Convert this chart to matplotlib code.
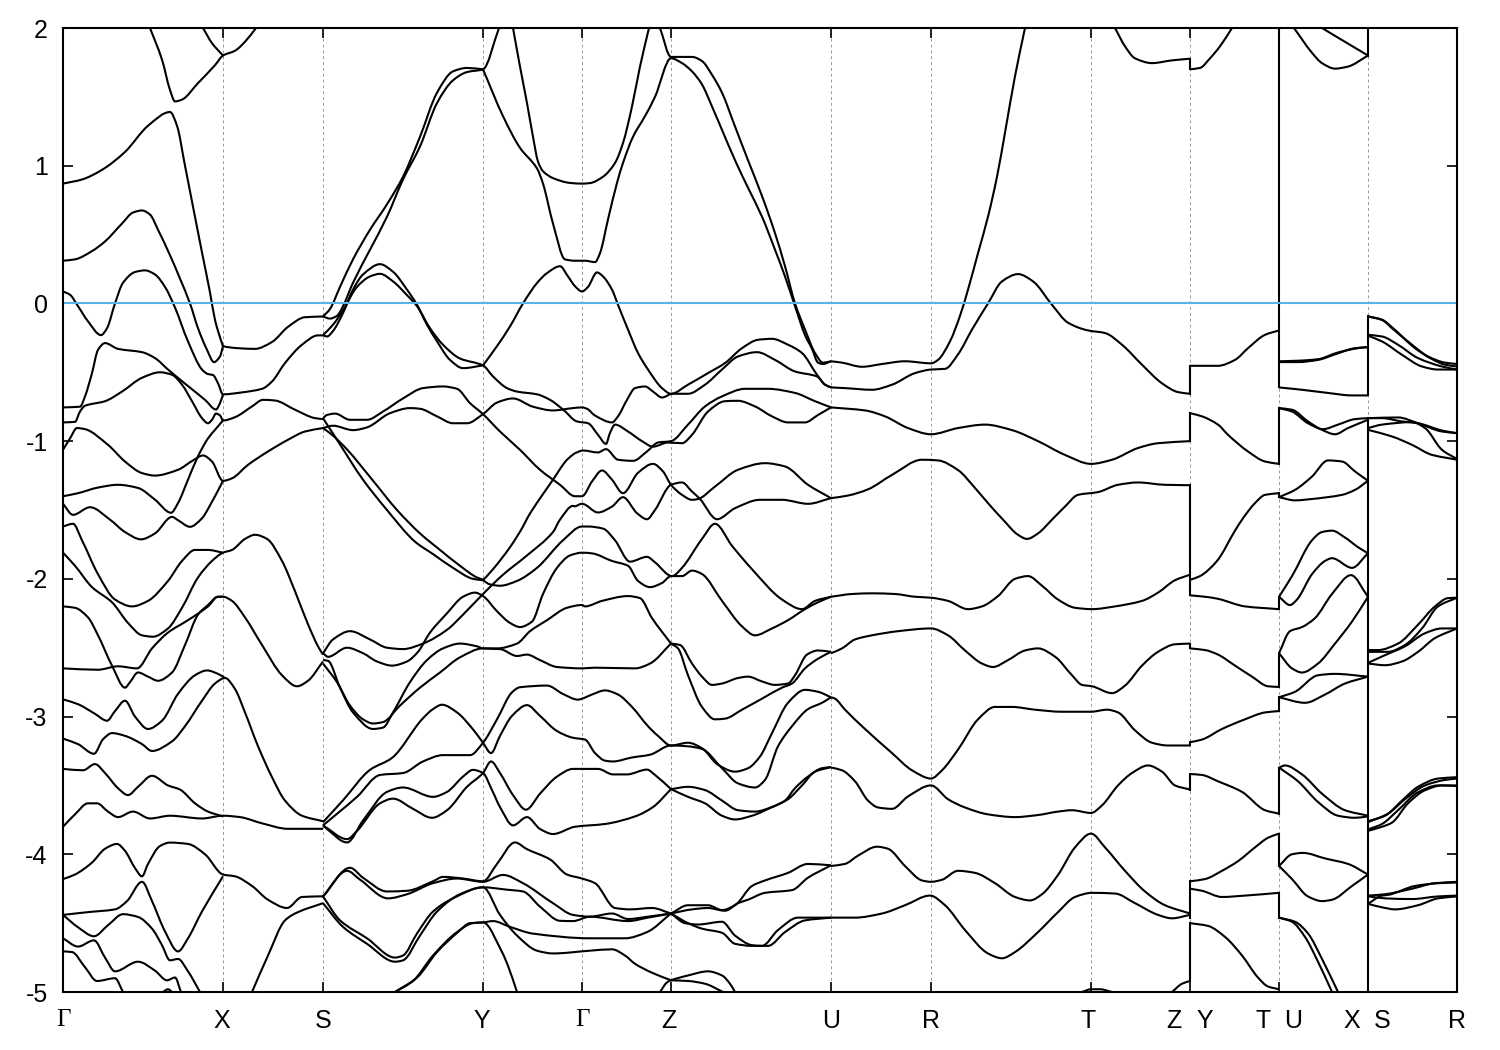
import numpy as np
import matplotlib
matplotlib.use("Agg")
import matplotlib.pyplot as plt
from matplotlib.path import Path
from matplotlib.patches import PathPatch

# k = distance along the path, E = energy (eV)
sym_points = [0, 160, 260, 420, 519, 608, 768, 868, 1028, 1127, 1216, 1305, 1394]
label_k = [0, 159, 260, 419, 519, 606, 768, 868, 1025, 1111, 1142, 1200, 1230, 1289, 1319, 1394]
label_txt = ["Γ", "X", "S", "Y", "Γ", "Z", "U", "R", "T", "Z", "Y", "T", "U", "X", "S", "R"]
y_ticks = [-5, -4, -3, -2, -1, 0, 1, 2]

# Gamma - X - S
gx1 = [(0,.87),(19,.90),(39,.97),(62,1.10),(85,1.29),(107,1.39),(114,1.29),(122,1.0),(129,.74),(139,.37),(147,.08),(152,-.12),(159,-.29),(160,-.31),(175,-.325),(192,-.33),(209,-.28),(225,-.17),(242,-.10),(260,-.095)]
gx2 = [(87,2.0),(99,1.77),(107,1.55),(112,1.467),(119,1.48),(135,1.60),(152,1.73),(160,1.80),(172,1.835),(182,1.90),(193,2.0)]
gx3 = [(140,2.0),(149,1.89),(160,1.80)]
gx4 = [(0,.31),(12,.32),(29,.38),(42,.45),(59,.58),(70,.66),(79,.675),(87,.645),(95,.535),(107,.35),(117,.18),(127,0),(135,-.18),(144,-.337),(151,-.426),(157,-.385),(160,-.31)]
gx5 = [(0,.087),(7,.063),(15,-.02),(25,-.13),(38,-.23),(44,-.18),(52,0),(60,.15),(72,.228),(82,.24),(92,.21),(102,.12),(112,-.03),(125,-.276),(139,-.48),(145,-.513),(150,-.52),(155,-.58),(160,-.66),(179,-.646),(199,-.62),(209,-.567),(222,-.433),(239,-.30),(255,-.232),(260,-.232)]
gx6 = [(0,-.755),(17,-.75),(22,-.675),(29,-.506),(35,-.337),(42,-.288),(55,-.33),(79,-.354),(92,-.397),(105,-.48),(125,-.60),(142,-.70),(153,-.77),(157,-.724),(160,-.66)]
gx7 = [(0,-.864),(12,-.86),(17,-.785),(22,-.743),(42,-.71),(59,-.64),(79,-.54),(97,-.50),(109,-.518),(119,-.59),(129,-.71),(139,-.833),(145,-.87),(149,-.845),(153,-.80),(157,-.813),(160,-.85),(172,-.826),(189,-.748),(200,-.70),(212,-.705),(232,-.772),(252,-.833),(260,-.84)]
gx8 = [(0,-1.063),(7,-.98),(14,-.905),(22,-.913),(45,-1.027),(62,-1.148),(79,-1.232),(92,-1.25),(115,-1.208),(130,-1.14),(140,-1.104),(149,-1.148),(160,-1.288),(169,-1.27),(185,-1.172),(205,-1.075),(225,-.99),(242,-.93),(260,-.905)]
gx9 = [(0,-1.40),(15,-1.378),(35,-1.337),(55,-1.317),(75,-1.34),(92,-1.425),(108,-1.52),(115,-1.45),(125,-1.28),(135,-1.11),(145,-.98),(152,-.918),(160,-.85)]
gx10 = [(0,-1.455),(10,-1.535),(27,-1.48),(47,-1.57),(62,-1.66),(78,-1.713),(92,-1.67),(109,-1.55),(115,-1.574),(127,-1.622),(139,-1.56),(146,-1.48),(160,-1.288)]
gx11 = [(0,-1.62),(10,-1.6),(19,-1.72),(35,-1.966),(52,-2.15),(69,-2.2),(85,-2.16),(105,-2.015),(119,-1.87),(132,-1.79),(145,-1.79),(160,-1.81)]
gx12 = [(0,-1.81),(12,-1.905),(29,-2.06),(49,-2.17),(65,-2.32),(79,-2.41),(90,-2.42),(105,-2.36),(119,-2.21),(135,-1.99),(149,-1.87),(160,-1.81),(169,-1.79),(182,-1.71),(192,-1.68),(204,-1.71),(219,-1.87),(232,-2.09),(245,-2.33),(255,-2.49),(260,-2.55)]
gx13 = [(0,-2.2),(12,-2.21),(25,-2.28),(35,-2.41),(49,-2.63),(62,-2.79),(67,-2.75),(75,-2.68),(85,-2.71),(95,-2.74),(109,-2.68),(122,-2.48),(135,-2.26),(145,-2.19),(155,-2.13),(160,-2.13),(169,-2.16),(182,-2.28),(199,-2.48),(219,-2.7),(234,-2.78),(245,-2.74),(260,-2.60)]
gx14 = [(0,-2.65),(35,-2.66),(55,-2.635),(74,-2.65),(89,-2.505),(105,-2.39),(125,-2.3),(145,-2.2),(155,-2.13),(160,-2.13)]
gx15 = [(0,-2.875),(15,-2.91),(32,-2.98),(44,-3.03),(52,-2.96),(62,-2.885),(72,-3.0),(85,-3.09),(99,-3.03),(115,-2.835),(132,-2.70),(144,-2.665),(155,-2.69),(162,-2.72)]
gx16 = [(0,-3.16),(15,-3.2),(31,-3.27),(40,-3.165),(49,-3.12),(62,-3.14),(79,-3.2),(89,-3.25),(109,-3.18),(122,-3.07),(139,-2.885),(152,-2.76),(162,-2.72),(172,-2.80),(182,-2.97),(195,-3.215),(209,-3.44),(222,-3.61),(239,-3.72),(260,-3.76)]
gx17 = [(0,-3.38),(20,-3.39),(32,-3.345),(42,-3.41),(55,-3.52),(65,-3.57),(75,-3.51),(89,-3.43),(105,-3.5),(117,-3.53),(132,-3.63),(145,-3.69),(160,-3.725)]
gx18 = [(0,-3.80),(12,-3.71),(25,-3.63),(34,-3.63),(45,-3.69),(55,-3.73),(70,-3.69),(87,-3.74),(107,-3.72),(139,-3.74),(160,-3.72),(177,-3.73),(199,-3.775),(225,-3.815),(260,-3.815)]
gx19 = [(0,-4.18),(12,-4.147),(29,-4.06),(42,-3.96),(54,-3.925),(62,-3.975),(72,-4.1),(79,-4.16),(85,-4.07),(97,-3.94),(107,-3.915),(125,-3.925),(142,-4.0),(160,-4.147),(172,-4.16),(189,-4.23),(205,-4.33),(224,-4.39),(239,-4.31),(260,-4.305)]
gx20 = [(0,-4.44),(25,-4.42),(52,-4.4),(64,-4.34),(79,-4.2),(89,-4.34),(102,-4.56),(115,-4.705),(125,-4.61),(139,-4.415),(160,-4.16)]
gx21 = [(0,-4.44),(15,-4.53),(31,-4.595),(45,-4.515),(60,-4.435),(75,-4.455),(89,-4.54),(99,-4.66),(107,-4.77),(115,-4.76),(125,-4.85),(137,-5.0)]
gx22 = [(0,-4.61),(15,-4.67),(31,-4.625),(42,-4.75),(52,-4.85),(75,-4.78),(92,-4.845),(104,-4.915),(112,-4.895),(118,-5.0)]
gx23 = [(0,-4.705),(9,-4.71),(22,-4.82),(34,-4.92),(52,-4.9),(60,-5.0)]
gx24 = [(100,-5.0),(105,-4.98),(109,-5.0)]
gx25 = [(189,-5.0),(205,-4.735),(222,-4.48),(235,-4.42),(260,-4.355)]

# S - Y - Gamma - Z - U
sy1 = [(260,-.095),(267,-.04),(277,.12),(290,.32),(307,.535),(324,.72),(340,.92),(357,1.21),(374,1.53),(390,1.685),(404,1.71),(420,1.70)]
sy2 = [(260,-.095),(267,-.11),(274,-.09),(280,-.02),(290,.15),(307,.39),(324,.63),(340,.90),(357,1.14),(374,1.455),(390,1.62),(404,1.68),(420,1.70),(436,2.0)]
sy3 = [(260,-.23),(264,-.24),(270,-.2),(280,-.07),(290,.1),(300,.21),(317,.285),(330,.23),(344,.10),(354,-.01),(364,-.155),(374,-.275),(387,-.41),(400,-.47),(420,-.45)]
sy4 = [(260,-.23),(270,-.155),(280,-.05),(294,.12),(307,.196),(317,.215),(330,.16),(344,.06),(354,-.02),(367,-.18),(380,-.30),(397,-.40),(420,-.45),(430,-.53),(444,-.615),(454,-.64),(474,-.66),(487,-.70),(500,-.77),(514,-.857),(525,-.87),(535,-.954),(543,-1.02),(547,-.94),(552,-.88),(565,-.93),(579,-1.0),(590,-1.04),(605,-1.01),(619,-1.015),(629,-.954),(645,-.785),(662,-.71),(675,-.707),(692,-.748),(709,-.82),(725,-.864),(742,-.864),(755,-.81),(768,-.755)]
gz0 = [(450,2.0),(457,1.72),(464,1.455),(470,1.21),(475,1.03),(480,.96),(490,.91),(507,.875),(519,.87),(527,.874),(540,.92),(552,1.02),(560,1.165),(569,1.43),(577,1.72),(586,2.0)]
gz1 = [(597,2.0),(608,1.79),(619,1.79),(629,1.79),(639,1.76),(649,1.66),(659,1.53),(672,1.285),(685,1.04),(699,.78),(712,.51),(722,.27),(732,0),(742,-.19),(752,-.36),(760,-.43),(768,-.42)]
gz2 = [(420,1.70),(440,1.36),(457,1.13),(474,.98),(480,.87),(490,.58),(502,.32),(512,.31),(522,.31),(532,.30),(537,.365),(545,.61),(554,.875),(560,1.02),(570,1.21),(582,1.36),(592,1.5),(608,1.78),(619,1.745),(629,1.685),(639,1.59),(649,1.43),(659,1.26),(672,1.04),(685,.84),(699,.63),(712,.39),(722,.196),(732,-.02),(742,-.23),(749,-.33),(755,-.43),(760,-.44),(768,-.42)]
sy6 = [(260,-.833),(264,-.81),(272,-.80),(287,-.845),(304,-.845),(320,-.785),(340,-.69),(360,-.615),(380,-.603),(394,-.62),(407,-.724),(420,-.804),(437,-.93),(457,-1.063),(477,-1.208),(497,-1.317),(512,-1.40),(519,-1.40),(529,-1.293),(539,-1.213),(549,-1.28),(560,-1.378),(575,-1.23),(590,-1.165),(600,-1.22),(608,-1.317),(619,-1.39),(629,-1.426),(635,-1.42),(652,-1.33),(675,-1.208),(702,-1.16),(722,-1.184),(745,-1.317),(768,-1.414)]
sy7 = [(260,-.905),(270,-.888),(290,-.92),(304,-.9),(327,-.797),(347,-.76),(357,-.765),(374,-.82),(390,-.87),(404,-.87),(420,-.804),(434,-.72),(450,-.69),(470,-.75),(490,-.777),(510,-.76),(519,-.755),(524,-.765),(532,-.814),(549,-.864),(555,-.82),(564,-.70),(572,-.615),(582,-.603),(590,-.64),(599,-.683),(608,-.656)]
sy8 = [(420,-.45),(434,-.31),(447,-.167),(460,0),(474,.148),(484,.22),(497,.27),(505,.196),(512,.125),(519,.087),(525,.12),(534,.225),(540,.196),(549,.1),(555,-.01),(565,-.19),(575,-.36),(585,-.48),(599,-.615),(608,-.656),(625,-.59),(645,-.506),(662,-.433),(679,-.325),(695,-.264),(709,-.257),(725,-.30),(739,-.36),(754,-.518),(762,-.59),(768,-.61)]
zu1 = [(608,-.656),(625,-.656),(642,-.59),(659,-.48),(675,-.385),(694,-.354),(712,-.41),(732,-.494),(754,-.53),(762,-.59),(768,-.61)]
zu2 = [(512,-1.087),(520,-1.068),(535,-1.082),(543,-1.058),(555,-1.135),(570,-1.143),(584,-1.075),(595,-1.01),(608,-1.0),(625,-.88),(642,-.748),(659,-.675),(682,-.62),(705,-.62),(732,-.65),(752,-.71),(768,-.755)]
zu3 = [(512,-1.475),(519,-1.455),(535,-1.518),(549,-1.475),(560,-1.407),(574,-1.523),(584,-1.567),(592,-1.5),(608,-1.317),(619,-1.30),(629,-1.366),(637,-1.42),(654,-1.567),(672,-1.487),(697,-1.426),(719,-1.426),(745,-1.455),(768,-1.414)]
sy9 = [(260,-.833),(274,-.99),(300,-1.28),(324,-1.5),(352,-1.73),(370,-1.82),(390,-1.92),(410,-2.0),(420,-2.01)]
sy10 = [(260,-.905),(269,-.954),(284,-1.06),(307,-1.26),(334,-1.5),(357,-1.67),(377,-1.79),(397,-1.905),(414,-1.99),(420,-2.005)]
sy11 = [(420,-2.01),(430,-1.93),(447,-1.77),(460,-1.62),(465,-1.55),(490,-1.28),(504,-1.135),(512,-1.087)]
sy12 = [(420,-2.01),(427,-2.04),(437,-2.05),(454,-2.015),(474,-1.92),(500,-1.72),(519,-1.62),(525,-1.62),(540,-1.635),(552,-1.72),(567,-1.875),(584,-1.84),(592,-1.88),(609,-1.98),(619,-1.92),(639,-1.71),(652,-1.6),(669,-1.76),(689,-1.93),(719,-2.15),(739,-2.22),(752,-2.16),(768,-2.13)]
sy13 = [(260,-2.54),(270,-2.44),(287,-2.38),(307,-2.44),(324,-2.5),(340,-2.51),(360,-2.47),(384,-2.37),(400,-2.26),(420,-2.11),(440,-1.97),(464,-1.83),(490,-1.66),(497,-1.57),(510,-1.47),(512,-1.475)]
sy14 = [(260,-2.54),(265,-2.566),(284,-2.5),(300,-2.54),(314,-2.6),(329,-2.63),(344,-2.6),(355,-2.53),(367,-2.39),(384,-2.25),(400,-2.13),(412,-2.1),(420,-2.125),(434,-2.235),(447,-2.32),(457,-2.35),(469,-2.31),(480,-2.11),(494,-1.92),(507,-1.83),(519,-1.81),(529,-1.815),(549,-1.87),(565,-1.905),(575,-2.015),(587,-2.06),(599,-2.03),(608,-1.98),(619,-1.98),(629,-1.94),(639,-1.965),(659,-2.16),(679,-2.345),(692,-2.41),(709,-2.36),(725,-2.3),(742,-2.22),(755,-2.17),(768,-2.13)]
sy15 = [(260,-2.59),(265,-2.595),(277,-2.79),(290,-2.97),(310,-3.09),(320,-3.08),(330,-2.97),(347,-2.75),(364,-2.59),(380,-2.505),(397,-2.47),(414,-2.49),(420,-2.505),(437,-2.51),(454,-2.56),(464,-2.55),(477,-2.59),(494,-2.64),(519,-2.65),(532,-2.645),(572,-2.65),(587,-2.615),(608,-2.47)]
sy16 = [(260,-2.615),(274,-2.75),(287,-2.92),(300,-3.02),(310,-3.05),(320,-3.04),(337,-2.92),(357,-2.79),(377,-2.68),(397,-2.57),(420,-2.505),(434,-2.505),(454,-2.47),(467,-2.38),(484,-2.3),(504,-2.21),(519,-2.19),(522,-2.2),(539,-2.16),(565,-2.125),(577,-2.14),(589,-2.285),(608,-2.47)]
zu4 = [(608,-2.47),(617,-2.48),(629,-2.615),(639,-2.71),(649,-2.77),(659,-2.76),(675,-2.72),(685,-2.71),(699,-2.745),(712,-2.77),(725,-2.76),(732,-2.7),(744,-2.55),(755,-2.52),(768,-2.53)]
zu5 = [(608,-2.47),(615,-2.505),(625,-2.7),(639,-2.93),(652,-3.02),(662,-3.015),(679,-2.95),(699,-2.87),(719,-2.79),(729,-2.76),(742,-2.65),(755,-2.58),(768,-2.53)]
sy17 = [(260,-3.767),(280,-3.608),(307,-3.387),(329,-3.30),(359,-3.02),(370,-2.946),(379,-2.914),(394,-2.97),(410,-3.093),(420,-3.19),(428,-3.265),(437,-3.14),(449,-2.995),(464,-2.917),(477,-2.995),(494,-3.105),(510,-3.154),(522,-3.167),(532,-3.265),(542,-3.32),(550,-3.326),(569,-3.297),(587,-3.277),(608,-3.21),(625,-3.216),(639,-3.235),(659,-3.375),(675,-3.485),(692,-3.515),(702,-3.46),(715,-3.216),(729,-3.07),(745,-2.946),(759,-2.9),(768,-2.86)]
sy18 = [(260,-3.79),(274,-3.706),(294,-3.583),(317,-3.424),(340,-3.41),(360,-3.326),(380,-3.28),(407,-3.28),(420,-3.19),(434,-3.02),(449,-2.824),(457,-2.787),(484,-2.775),(500,-2.836),(515,-2.877),(519,-2.87),(529,-2.84),(542,-2.81),(555,-2.84),(569,-2.93),(585,-3.07),(595,-3.14),(608,-3.21),(625,-3.19),(639,-3.23),(655,-3.35),(672,-3.40),(685,-3.375),(697,-3.29),(709,-3.12),(725,-2.9),(742,-2.806),(755,-2.82),(768,-2.86)]
sy19 = [(260,-3.79),(264,-3.816),(284,-3.914),(300,-3.755),(324,-3.547),(340,-3.515),(370,-3.583),(384,-3.547),(400,-3.436),(410,-3.387),(420,-3.41),(429,-3.534),(437,-3.657),(450,-3.79),(464,-3.73),(477,-3.816),(490,-3.853),(512,-3.80),(542,-3.78),(572,-3.725),(590,-3.657),(608,-3.527)]
sy20 = [(260,-3.79),(284,-3.89),(294,-3.83),(317,-3.63),(330,-3.596),(350,-3.67),(369,-3.735),(384,-3.68),(404,-3.51),(420,-3.41),(428,-3.326),(437,-3.41),(450,-3.57),(463,-3.676),(477,-3.56),(494,-3.436),(510,-3.38),(535,-3.38),(550,-3.42),(564,-3.42),(584,-3.385),(592,-3.424),(608,-3.527)]
zu6 = [(608,-3.527),(625,-3.51),(642,-3.534),(659,-3.61),(675,-3.68),(692,-3.69),(709,-3.657),(722,-3.61),(732,-3.52),(745,-3.436),(759,-3.375),(768,-3.367)]
zu7 = [(608,-3.527),(625,-3.583),(642,-3.63),(659,-3.72),(672,-3.747),(689,-3.72),(709,-3.657),(725,-3.6),(739,-3.5),(752,-3.4),(768,-3.367)]
sy21 = [(260,-4.306),(287,-4.098),(300,-4.17),(324,-4.27),(344,-4.265),(370,-4.196),(380,-4.164),(400,-4.176),(420,-4.196),(434,-4.07),(452,-3.914),(464,-3.963),(487,-4.037),(504,-4.147),(519,-4.176),(532,-4.21),(552,-4.39),(567,-4.4),(589,-4.39),(608,-4.43)]
sy22 = [(260,-4.306),(284,-4.12),(297,-4.184),(325,-4.32),(344,-4.29),(370,-4.21),(394,-4.176),(420,-4.2),(440,-4.15),(460,-4.21),(490,-4.355),(510,-4.44),(527,-4.453),(549,-4.43),(565,-4.47),(585,-4.453),(608,-4.43)]
sy23 = [(260,-4.306),(277,-4.48),(304,-4.61),(332,-4.75),(340,-4.735),(354,-4.575),(370,-4.416),(390,-4.32),(420,-4.24),(444,-4.257),(460,-4.27),(477,-4.38),(497,-4.483),(510,-4.485),(527,-4.453),(565,-4.485),(585,-4.46),(608,-4.43)]
sy24 = [(260,-4.355),(280,-4.527),(304,-4.65),(332,-4.78),(340,-4.77),(357,-4.59),(374,-4.416),(397,-4.29),(420,-4.24),(437,-4.44),(454,-4.59),(474,-4.70),(490,-4.72),(527,-4.70),(549,-4.69),(562,-4.735),(572,-4.795),(589,-4.86),(608,-4.915)]
sy25 = [(332,-5.0),(354,-4.895),(374,-4.71),(395,-4.565),(407,-4.5),(420,-4.495),(430,-4.485),(447,-4.527),(470,-4.576),(527,-4.61),(562,-4.61),(584,-4.565),(608,-4.43)]
sy26 = [(332,-5.0),(350,-4.92),(370,-4.735),(394,-4.565),(410,-4.5),(420,-4.495),(439,-4.71),(445,-4.81),(454,-5.0)]
zu8 = [(608,-4.43),(625,-4.37),(645,-4.37),(659,-4.405),(672,-4.37),(689,-4.23),(702,-4.19),(725,-4.135),(745,-4.07),(768,-4.08)]
zu9 = [(608,-4.43),(629,-4.4),(645,-4.39),(662,-4.41),(675,-4.355),(685,-4.33),(702,-4.28),(729,-4.26),(745,-4.17),(768,-4.08)]
zu10 = [(608,-4.43),(622,-4.5),(635,-4.51),(659,-4.49),(672,-4.59),(689,-4.66),(699,-4.665),(715,-4.55),(735,-4.46),(768,-4.46)]
zu11 = [(608,-4.43),(625,-4.5),(639,-4.54),(659,-4.57),(672,-4.65),(689,-4.665),(705,-4.665),(722,-4.565),(742,-4.48),(768,-4.46)]
zu12 = [(597,-5.0),(604,-4.93),(608,-4.915),(625,-4.88),(645,-4.85),(659,-4.88),(667,-4.94),(672,-5.0)]
zu13 = [(608,-4.915),(625,-4.92),(642,-4.94),(660,-5.0)]

# U - R - T - Z
ur1 = [(768,-.42),(779,-.43),(799,-.46),(819,-.44),(842,-.42),(868,-.435),(875,-.41),(887,-.275),(897,-.09),(905,.10),(915,.365),(925,.63),(934,.92),(942,1.24),(952,1.65),(962,2.0)]
ur2 = [(768,-.61),(782,-.615),(809,-.627),(829,-.59),(852,-.506),(868,-.48),(882,-.475),(895,-.37),(909,-.19),(925,0),(939,.16),(955,.213),(970,.16),(989,-.01),(1005,-.14),(1025,-.196),(1042,-.215),(1059,-.30),(1079,-.445),(1099,-.58),(1115,-.644),(1127,-.656)]
ur3 = [(768,-.755),(802,-.777),(822,-.82),(845,-.905),(868,-.95),(895,-.905),(922,-.88),(949,-.92),(975,-1.0),(1002,-1.10),(1028,-1.165),(1049,-1.135),(1075,-1.05),(1095,-1.015),(1127,-1.0)]
ur4 = [(768,-1.414),(785,-1.395),(805,-1.35),(829,-1.245),(859,-1.135),(875,-1.14),(895,-1.21),(912,-1.34),(925,-1.45),(940,-1.57),(955,-1.68),(964,-1.71),(975,-1.67),(989,-1.57),(1002,-1.475),(1015,-1.39),(1035,-1.37),(1055,-1.317),(1075,-1.30),(1102,-1.317),(1127,-1.32)]
ur5 = [(768,-2.13),(789,-2.11),(809,-2.105),(832,-2.11),(852,-2.13),(868,-2.137),(885,-2.16),(905,-2.22),(919,-2.2),(935,-2.125),(952,-2.0),(965,-1.98),(979,-2.05),(995,-2.15),(1012,-2.21),(1029,-2.22),(1052,-2.2),(1079,-2.16),(1095,-2.10),(1112,-2.01),(1127,-1.97)]
ur6 = [(768,-2.54),(779,-2.505),(792,-2.44),(809,-2.41),(835,-2.38),(868,-2.36),(885,-2.41),(902,-2.52),(919,-2.615),(930,-2.64),(945,-2.59),(962,-2.52),(975,-2.505),(992,-2.565),(1009,-2.70),(1019,-2.77),(1029,-2.78),(1049,-2.83),(1062,-2.775),(1079,-2.63),(1095,-2.53),(1112,-2.475),(1127,-2.47)]
ur7 = [(768,-2.86),(772,-2.87),(782,-2.95),(802,-3.09),(829,-3.265),(849,-3.39),(868,-3.45),(879,-3.39),(895,-3.24),(915,-3.02),(932,-2.93),(949,-2.93),(972,-2.95),(999,-2.965),(1028,-2.965),(1044,-2.95),(1055,-2.97),(1072,-3.10),(1089,-3.19),(1105,-3.21),(1127,-3.21)]
ur8 = [(768,-3.37),(779,-3.39),(792,-3.47),(805,-3.61),(815,-3.66),(829,-3.67),(845,-3.58),(868,-3.50),(885,-3.60),(902,-3.66),(925,-3.71),(952,-3.73),(975,-3.715),(995,-3.69),(1009,-3.68),(1028,-3.70),(1039,-3.645),(1055,-3.50),(1069,-3.41),(1085,-3.355),(1099,-3.40),(1112,-3.50),(1127,-3.53)]
ur9 = [(768,-4.085),(782,-4.07),(795,-4.01),(814,-3.945),(825,-3.96),(842,-4.085),(859,-4.19),(868,-4.2),(879,-4.185),(895,-4.12),(912,-4.135),(932,-4.21),(952,-4.31),(967,-4.335),(979,-4.29),(995,-4.15),(1012,-3.95),(1028,-3.85),(1042,-3.95),(1062,-4.12),(1082,-4.27),(1102,-4.37),(1127,-4.43)]
ur10 = [(768,-4.46),(792,-4.46),(819,-4.43),(842,-4.37),(867,-4.30),(882,-4.37),(902,-4.55),(925,-4.72),(939,-4.755),(952,-4.71),(975,-4.565),(995,-4.42),(1012,-4.31),(1029,-4.28),(1052,-4.285),(1072,-4.355),(1095,-4.44),(1109,-4.465),(1127,-4.44)]
ur11 = [(1052,2.0),(1062,1.867),(1072,1.78),(1089,1.745),(1109,1.765),(1127,1.777)]
ur12 = [(1109,-5.0),(1119,-4.94),(1127,-4.92)]
ur13 = [(1019,-5.0),(1028,-4.98),(1037,-4.98),(1049,-5.0)]

# Y - T
yt1 = [(1127,1.70),(1137,1.71),(1147,1.78),(1157,1.867),(1169,2.0)]
yt2 = [(1127,-.453),(1155,-.453),(1172,-.41),(1185,-.325),(1202,-.228),(1216,-.196)]
yt3 = [(1127,-.797),(1139,-.82),(1155,-.88),(1165,-.954),(1185,-1.075),(1202,-1.148),(1216,-1.165)]
yt4 = [(1127,-2.007),(1137,-1.98),(1154,-1.87),(1172,-1.65),(1180,-1.56),(1192,-1.45),(1202,-1.39),(1216,-1.378)]
yt5 = [(1127,-2.12),(1142,-2.13),(1155,-2.145),(1182,-2.2),(1216,-2.22)]
yt6 = [(1127,-2.505),(1142,-2.517),(1155,-2.55),(1172,-2.63),(1189,-2.71),(1205,-2.78),(1216,-2.785)]
yt7 = [(1127,-3.186),(1139,-3.167),(1159,-3.09),(1182,-3.02),(1202,-2.97),(1216,-2.96)]
yt8 = [(1127,-3.417),(1139,-3.424),(1155,-3.47),(1179,-3.547),(1202,-3.68),(1216,-3.705)]
yt9 = [(1127,-4.196),(1142,-4.18),(1159,-4.12),(1175,-4.05),(1192,-3.95),(1205,-3.88),(1216,-3.85)]
yt10 = [(1127,-4.25),(1139,-4.265),(1159,-4.31),(1182,-4.30),(1216,-4.28)]
yt11 = [(1127,-4.5),(1145,-4.52),(1162,-4.6),(1179,-4.735),(1195,-4.895),(1205,-4.96),(1216,-4.98)]

# U - X
ux1 = [(1231,2.0),(1249,1.82),(1259,1.745),(1272,1.705),(1285,1.72),(1305,1.80)]
ux2 = [(1259,2.0),(1275,1.93),(1305,1.80)]
ux3 = [(1216,-.42),(1235,-.416),(1255,-.405),(1275,-.356),(1295,-.325),(1305,-.317)]
ux4 = [(1216,-.426),(1235,-.426),(1255,-.41),(1272,-.37),(1292,-.325),(1305,-.317)]
ux5 = [(1216,-.61),(1239,-.627),(1265,-.65),(1289,-.668),(1305,-.668)]
ux6 = [(1216,-.76),(1229,-.772),(1245,-.857),(1259,-.918),(1272,-.95),(1285,-.905),(1305,-.845)]
ux7 = [(1216,-.76),(1229,-.785),(1245,-.87),(1260,-.913),(1275,-.88),(1292,-.84),(1305,-.833)]
ux8 = [(1216,-1.407),(1232,-1.354),(1249,-1.257),(1265,-1.14),(1279,-1.148),(1292,-1.22),(1305,-1.288)]
ux9 = [(1216,-1.407),(1232,-1.43),(1249,-1.42),(1279,-1.39),(1292,-1.354),(1305,-1.288)]
ux10 = [(1216,-2.13),(1229,-1.98),(1249,-1.72),(1259,-1.66),(1269,-1.65),(1282,-1.70),(1295,-1.77),(1305,-1.814)]
ux11 = [(1216,-2.13),(1227,-2.19),(1234,-2.15),(1249,-1.966),(1262,-1.87),(1269,-1.85),(1289,-1.92),(1305,-1.814)]
ux12 = [(1216,-2.54),(1227,-2.38),(1239,-2.35),(1252,-2.285),(1269,-2.11),(1288,-1.973),(1305,-2.13)]
ux13 = [(1216,-2.54),(1229,-2.65),(1239,-2.68),(1255,-2.615),(1272,-2.47),(1289,-2.31),(1305,-2.13)]
ux14 = [(1216,-2.86),(1232,-2.82),(1255,-2.70),(1272,-2.69),(1305,-2.71)]
ux15 = [(1216,-2.86),(1242,-2.9),(1262,-2.84),(1282,-2.76),(1305,-2.71)]
ux16 = [(1216,-3.37),(1222,-3.355),(1239,-3.42),(1259,-3.56),(1282,-3.68),(1305,-3.72)]
ux17 = [(1216,-3.37),(1235,-3.47),(1255,-3.62),(1275,-3.72),(1292,-3.735),(1305,-3.725)]
ux18 = [(1216,-4.085),(1229,-4.0),(1240,-3.99),(1262,-4.03),(1285,-4.07),(1305,-4.147)]
ux19 = [(1216,-4.085),(1229,-4.18),(1245,-4.306),(1259,-4.34),(1269,-4.33),(1289,-4.23),(1305,-4.147)]
ux20 = [(1216,-4.46),(1232,-4.49),(1245,-4.575),(1259,-4.76),(1275,-5.0)]
ux21 = [(1216,-4.46),(1229,-4.49),(1242,-4.6),(1255,-4.78),(1269,-5.0)]

# S - R
sr1 = [(1305,-.094),(1319,-.12),(1329,-.18),(1349,-.3),(1365,-.385),(1382,-.43),(1394,-.44)]
sr2 = [(1305,-.094),(1319,-.118),(1329,-.173),(1352,-.325),(1369,-.404),(1382,-.445),(1394,-.458)]
sr3 = [(1305,-.228),(1319,-.24),(1335,-.30),(1355,-.397),(1379,-.458),(1394,-.48)]
sr4 = [(1305,-.235),(1319,-.276),(1339,-.373),(1359,-.458),(1375,-.48),(1394,-.48)]
sr5 = [(1305,-.833),(1335,-.828),(1355,-.87),(1379,-.93),(1394,-.942)]
sr6 = [(1305,-.833),(1319,-.833),(1339,-.857),(1355,-.87),(1379,-.923),(1394,-.942)]
sr7 = [(1305,-.905),(1319,-.88),(1349,-.862),(1362,-.905),(1379,-1.063),(1394,-1.13)]
sr8 = [(1305,-.918),(1329,-.966),(1349,-1.027),(1369,-1.1),(1385,-1.123),(1394,-1.135)]
sr9 = [(1305,-2.517),(1315,-2.517),(1335,-2.47),(1355,-2.333),(1372,-2.2),(1385,-2.14),(1394,-2.137)]
sr10 = [(1305,-2.53),(1325,-2.53),(1342,-2.48),(1359,-2.36),(1375,-2.2),(1394,-2.137)]
sr11 = [(1305,-2.615),(1322,-2.627),(1339,-2.6),(1355,-2.53),(1372,-2.43),(1394,-2.36)]
sr12 = [(1305,-2.61),(1322,-2.554),(1342,-2.49),(1362,-2.395),(1379,-2.36),(1394,-2.36)]
sr13 = [(1305,-3.76),(1322,-3.72),(1339,-3.61),(1355,-3.51),(1375,-3.45),(1394,-3.44)]
sr14 = [(1305,-3.767),(1325,-3.705),(1342,-3.6),(1362,-3.5),(1382,-3.46),(1394,-3.45)]
sr15 = [(1305,-3.82),(1319,-3.78),(1335,-3.68),(1355,-3.55),(1375,-3.5),(1394,-3.5)]
sr16 = [(1305,-3.83),(1319,-3.8),(1329,-3.77),(1345,-3.63),(1362,-3.535),(1379,-3.5),(1394,-3.505)]
sr17 = [(1305,-4.3),(1322,-4.29),(1349,-4.25),(1372,-4.21),(1394,-4.2)]
sr18 = [(1305,-4.36),(1319,-4.3),(1325,-4.295),(1352,-4.23),(1375,-4.21),(1394,-4.205)]
sr19 = [(1305,-4.305),(1322,-4.32),(1349,-4.325),(1375,-4.306),(1394,-4.3)]
sr20 = [(1305,-4.36),(1319,-4.385),(1332,-4.4),(1355,-4.37),(1375,-4.32),(1394,-4.306)]

# jumps where the path breaks: k, low E, high E
jumps = [(1127,1.70,1.777),(1127,-.656,-.453),(1127,-1.0,-.797),(1127,-2.12,-1.32),(1127,-2.505,-2.47),
         (1127,-3.21,-3.186),(1127,-3.53,-3.417),(1127,-4.465,-4.196),(1127,-4.92,-4.5),
         (1216,-.61,2.0),(1216,-1.165,-.76),(1216,-1.407,-1.378),(1216,-2.22,-2.13),(1216,-2.785,-2.54),
         (1216,-2.96,-2.86),(1216,-3.705,-3.37),(1216,-4.085,-3.85),(1216,-4.46,-4.28),
         (1305,1.8,2.0),(1305,-.668,-.094),(1305,-5.0,-.833)]

bands = [gx1,gx2,gx3,gx4,gx5,gx6,gx7,gx8,gx9,gx10,gx11,gx12,gx13,gx14,gx15,gx16,gx17,gx18,gx19,gx20,gx21,gx22,gx23,gx24,gx25,
         sy1,sy2,sy3,sy4,sy6,sy7,sy8,sy9,sy10,sy11,sy12,sy13,sy14,sy15,sy16,sy17,sy18,sy19,sy20,sy21,sy22,sy23,sy24,sy25,sy26,
         gz0,gz1,gz2,zu1,zu2,zu3,zu4,zu5,zu6,zu7,zu8,zu9,zu10,zu11,zu12,zu13,
         ur1,ur2,ur3,ur4,ur5,ur6,ur7,ur8,ur9,ur10,ur11,ur12,ur13,
         yt1,yt2,yt3,yt4,yt5,yt6,yt7,yt8,yt9,yt10,yt11,
         ux1,ux2,ux3,ux4,ux5,ux6,ux7,ux8,ux9,ux10,ux11,ux12,ux13,ux14,ux15,ux16,ux17,ux18,ux19,ux20,ux21,
         sr1,sr2,sr3,sr4,sr5,sr6,sr7,sr8,sr9,sr10,sr11,sr12,sr13,sr14,sr15,sr16,sr17,sr18,sr19,sr20]


def curve_path(band):
    # bezier through the read points, so the line is rounded like the original
    k, e = np.array(band, dtype=float).T
    slope = np.diff(e) / np.diff(k)
    m = np.zeros(len(k))
    m[0], m[-1] = slope[0], slope[-1]
    for i in range(1, len(k) - 1):
        if slope[i-1] * slope[i] > 0:
            m[i] = 2 * slope[i-1] * slope[i] / (slope[i-1] + slope[i])
    verts = [(k[0], e[0])]
    codes = [Path.MOVETO]
    for i in range(len(k) - 1):
        d = (k[i+1] - k[i]) / 3
        verts += [(k[i] + d, e[i] + m[i]*d), (k[i+1] - d, e[i+1] - m[i+1]*d), (k[i+1], e[i+1])]
        codes += [Path.CURVE4] * 3
    return Path(verts, codes)


plt.rcParams["font.family"] = ["Liberation Sans", "DejaVu Sans"]
plt.rcParams["axes.unicode_minus"] = False

fig = plt.figure(figsize=(15, 10.5), dpi=100)
ax = fig.add_axes([63/1500, 1-992/1050, 1394/1500, 964/1050])

# faint dashed guides at the symmetry points
for k in sym_points[1:-1]:
    ax.axvline(k, color="#999999", lw=0.7, ls=(0, (3, 3)), zorder=1)

for b in bands:
    ax.add_patch(PathPatch(curve_path(b), fill=False, edgecolor="black", lw=1.5, zorder=2))

for k, lo, hi in jumps:
    ax.plot([k, k], [lo, hi], color="black", lw=1.5, zorder=2)

ax.axhline(0, color="#56B4E9", lw=1.5, zorder=3)

ax.set_xlim(0, 1394)
ax.set_ylim(-5, 2)

ax.xaxis.remove_overlapping_locs = False
ax.set_xticks(sym_points)
ax.set_xticklabels([])
ax.set_xticks(label_k, minor=True)
ax.set_xticklabels(label_txt, minor=True)
ax.tick_params(axis="x", which="minor", length=0, pad=12, labelsize=18)
ax.tick_params(axis="x", which="major", direction="in", top=True, length=7, width=1.2)
ax.set_yticks(y_ticks)
ax.tick_params(axis="y", direction="in", right=True, length=7, width=1.2, labelsize=18, pad=11)

# the capital gamma is set in a serif face in the original
for lab in ax.get_xticklabels(minor=True):
    if lab.get_text() == "Γ":
        lab.set_family("Liberation Serif")

for s in ax.spines.values():
    s.set_linewidth(1.5)
    s.set_zorder(5)

fig.savefig("out.png", dpi=100)
